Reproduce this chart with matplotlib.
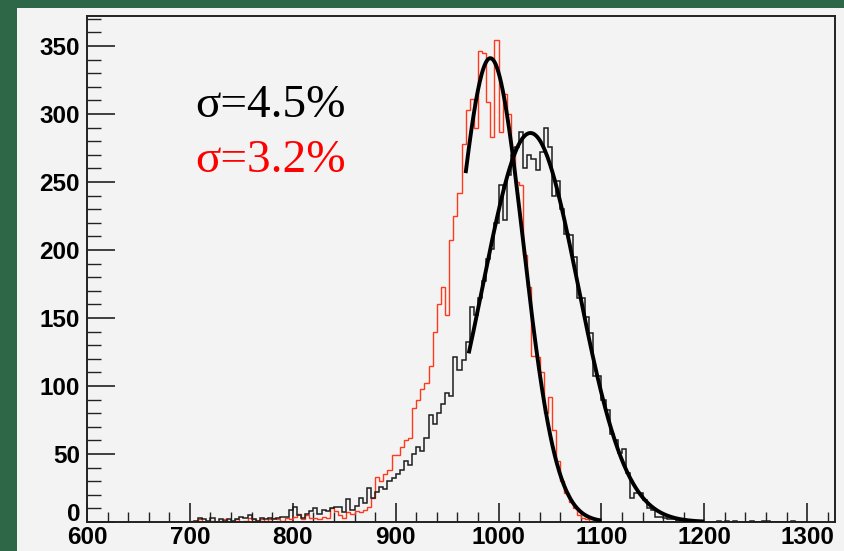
import numpy as np
import matplotlib.pyplot as plt
from matplotlib.patches import Rectangle
from matplotlib.ticker import MultipleLocator, FuncFormatter

# histogram binning (bin width 4, starting at 700)
BIN_START = 700
BIN_WIDTH = 4

# broad distribution (black), 700 -> 1300
black_counts = [
    0, 1, 3, 2, 1, 3, 0, 2, 1, 2,
    1, 2, 4, 3, 5, 2, 1, 3, 2, 3,
    2, 3, 4, 4, 9, 11, 5, 3, 6, 8,
    10, 6, 9, 8, 10, 11, 11, 7, 17, 9,
    12, 18, 14, 25, 18, 22, 26, 24, 30, 32,
    35, 38, 45, 42, 50, 55, 52, 62, 79, 72,
    80, 87, 95, 93, 121, 112, 119, 132, 158, 152,
    165, 177, 193, 201, 220, 248, 222, 255, 270, 276,
    287, 260, 270, 267, 259, 272, 290, 276, 240, 251,
    230, 212, 211, 195, 165, 165, 151, 139, 107, 107,
    90, 82, 65, 60, 51, 54, 36, 18, 21, 21,
    16, 10, 9, 4, 4, 3, 2, 2, 1, 1,
    1, 0, 1, 0, 0, 0, 0, 0, 1, 0,
    1, 0, 1, 0, 0, 0, 1, 0, 0, 1,
    1, 0, 0, 0, 0, 0, 1, 0, 0, 0,
]

# narrow distribution (red), 700 -> 1100
red_counts = [
    1, 0, 2, 0, 0, 1, 0, 1, 2, 0,
    1, 2, 0, 1, 3, 2, 1, 2, 1, 2,
    3, 2, 1, 3, 2, 4, 6, 2, 5, 3,
    3, 2, 4, 3, 10, 8, 5, 3, 7, 6,
    8, 7, 9, 11, 18, 33, 30, 35, 38, 49,
    49, 55, 60, 62, 84, 90, 98, 102, 115, 140,
    160, 173, 152, 207, 225, 242, 278, 303, 311, 290,
    346, 345, 309, 283, 354, 287, 315, 300, 276, 250,
    248, 196, 173, 122, 121, 110, 80, 92, 68, 45,
    30, 21, 15, 10, 5, 3, 2, 1, 0, 0,
]

# gaussian fit parameters: amplitude, mean, sigma, fit range
fit_black = (286, 1031, 46.4, 971, 1200)
fit_red = (341, 992, 31.8, 968, 1100)

labels = ["σ=4.5%", "σ=3.2%"]

GREEN = "#2d6747"
PANEL = "#f3f3f3"
RED = "#ff3a1c"

fig = plt.figure(figsize=(8.44, 5.51), dpi=100, facecolor=GREEN)
fig.patches.append(Rectangle((17 / 844, 0), 1, 1 - 8 / 551, transform=fig.transFigure,
                             facecolor=PANEL, edgecolor="none", zorder=-10))

ax = fig.add_axes([87 / 844, 29 / 551, (835 - 87) / 844, (522 - 16) / 551])
ax.set_facecolor(PANEL)

edges_b = BIN_START + BIN_WIDTH * np.arange(len(black_counts) + 1)
edges_r = BIN_START + BIN_WIDTH * np.arange(len(red_counts) + 1)
ax.stairs(red_counts, edges_r, color=RED, linewidth=1.0, zorder=2)
ax.stairs(black_counts, edges_b, color="#1e1e1e", linewidth=1.1, zorder=3)

for amp, mu, sig, lo, hi in (fit_red, fit_black):
    xs = np.linspace(lo, hi, 300)
    ax.plot(xs, amp * np.exp(-0.5 * ((xs - mu) / sig) ** 2), color="black",
            linewidth=2.8, solid_capstyle="butt", zorder=4)

ax.set_xlim(600, 1327)
ax.set_ylim(0, 372)

ax.xaxis.set_major_locator(MultipleLocator(100))
ax.xaxis.set_minor_locator(MultipleLocator(20))
ax.yaxis.set_major_locator(MultipleLocator(50))
ax.yaxis.set_minor_locator(MultipleLocator(10))
# "0" on the y axis is drawn separately, slightly raised like ROOT does
ax.yaxis.set_major_formatter(FuncFormatter(lambda v, p: "" if v == 0 else f"{v:.0f}"))
ax.tick_params(which="both", direction="in", top=False, right=False, color="#222222")
ax.tick_params(axis="x", which="major", length=14, width=1.2, pad=3)
ax.tick_params(axis="x", which="minor", length=7, width=1.0)
ax.tick_params(axis="y", which="major", length=20, width=1.2, pad=5)
ax.tick_params(axis="y", which="minor", length=10, width=1.0)
for side in ax.spines.values():
    side.set_color("#222222")
    side.set_linewidth(1.4)

tick_font = dict(family=["Liberation Sans Narrow", "Liberation Sans", "DejaVu Sans"],
                 weight="bold", size=17.5)
for lab in ax.get_xticklabels() + ax.get_yticklabels():
    lab.set_fontproperties(tick_font)
ax.annotate("0", xy=(0, 0), xycoords="axes fraction", xytext=(-5, 1),
            textcoords="offset points", ha="right", va="baseline", **tick_font)

serif = ["Liberation Serif", "DejaVu Serif"]
fig.text(195 / 844, 1 - 117 / 551, labels[0], color="black", family=serif,
         fontsize=34, va="baseline", ha="left")
fig.text(195 / 844, 1 - 172 / 551, labels[1], color="red", family=serif,
         fontsize=34, va="baseline", ha="left")

fig.savefig("out.png", dpi=100, facecolor=GREEN)
